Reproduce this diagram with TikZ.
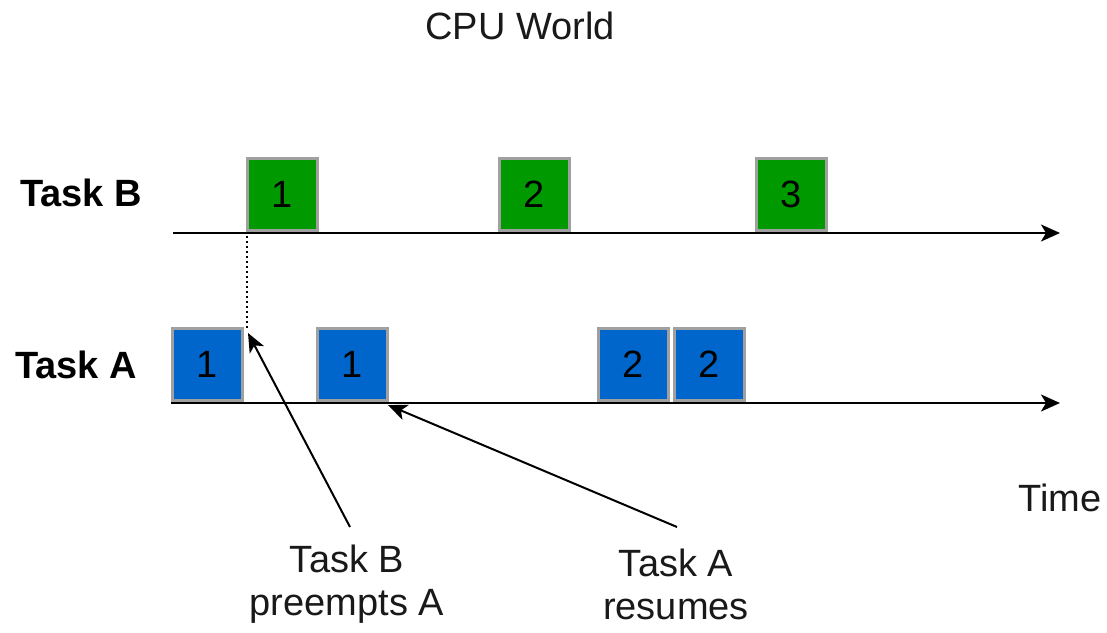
\documentclass[tikz,border=0pt]{standalone}
\usepackage{fontspec}
\setmainfont{Liberation Sans}
\usetikzlibrary{arrows.meta}
\definecolor{slotgreen}{HTML}{009900}
\definecolor{slotblue}{HTML}{0066CC}
\definecolor{slotedge}{HTML}{A0A0A0}
\begin{document}
\begin{tikzpicture}[x=1pt,y=-1pt,
  txt/.style={font=\fontsize{38}{43}\selectfont, inner sep=0pt, align=center, text=black!90},
  rowlabel/.style={txt, font=\fontsize{38}{43}\selectfont\bfseries, text=black},
  slot/.style={draw=slotedge, line width=3pt, minimum width=70pt, minimum height=72pt,
    inner sep=0pt, font=\fontsize{38}{43}\selectfont, text=black},
  bslot/.style={slot, fill=slotgreen},
  aslot/.style={slot, fill=slotblue},
  timeline/.style={line width=2pt, -{Stealth[length=19pt,width=17pt,inset=5pt]}},
  pointer/.style={line width=2pt, -{Stealth[length=19pt,width=16pt,inset=5pt]}}]
\useasboundingbox (0,0) rectangle (1107,632);

% titles and row labels
\node[txt] (title) at (520,26) {CPU World};
\node[rowlabel] (lblB) at (81,193) {Task B};
\node[rowlabel] (lblA) at (76,365) {Task A};
\node[txt] (time) at (1060,498) {Time};

% time axes
\coordinate (bstart) at (173,233);
\coordinate (bend) at (1060,233);
\coordinate (astart) at (171,403);
\coordinate (aend) at (1060,403);
\draw[timeline] (bstart) -- (bend);
\draw[timeline] (astart) -- (aend);

% Task B time slices
\node[bslot] (b1) at (282.5,194.5) {1};
\node[bslot] (b2) at (534,194.5) {2};
\node[bslot] (b3) at (791.5,194.5) {3};

% Task A time slices
\node[aslot] (a1) at (207,364.5) {1};
\node[aslot] (a2) at (352.5,364.5) {1};
\node[aslot] (a3) at (633.5,364.5) {2};
\node[aslot] (a4) at (709.5,364.5) {2};

% preemption marker
\coordinate (pre) at (247,236);
\coordinate (preA) at (247,330);
\draw[line width=2pt, dash pattern=on 2pt off 3pt] (pre) -- (preA);

% annotations
\node[txt] (preempt) at (347,584) {Task B\\preempts A};
\node[txt] (resume) at (676,584) {Task A\\resumes};
\coordinate (preTail) at (350,527);
\coordinate (preTip) at (248,333);
\coordinate (resTail) at (677,527);
\coordinate (resTip) at (388,405);
\draw[pointer] (preTail) -- (preTip);
\draw[pointer] (resTail) -- (resTip);
\end{tikzpicture}
\end{document}
